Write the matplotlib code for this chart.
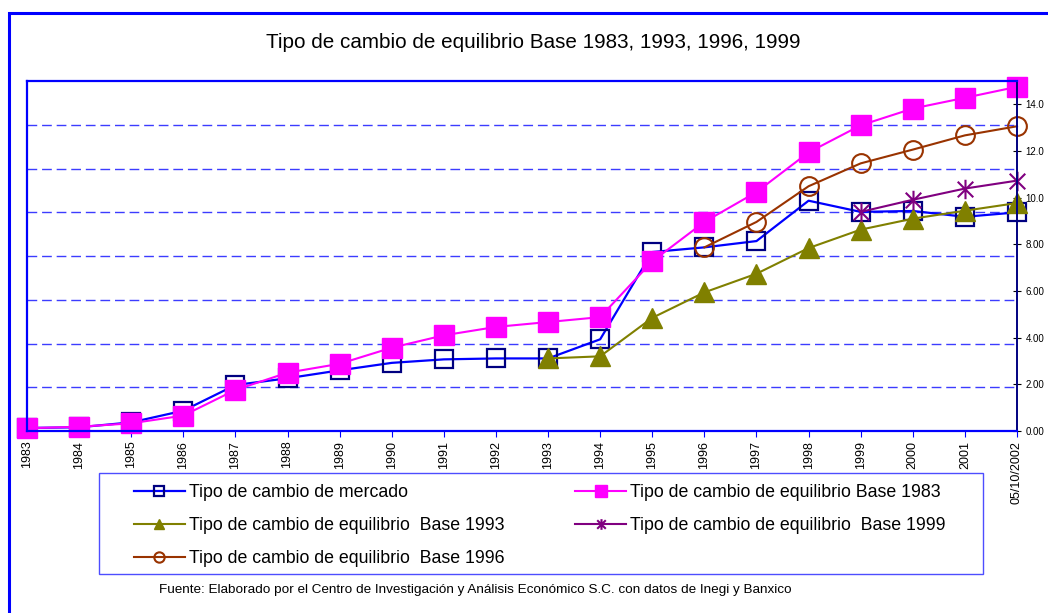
import numpy as np
import matplotlib.pyplot as plt
from matplotlib.path import Path
from matplotlib.patches import Rectangle

plt.rcParams['font.family'] = ['Liberation Sans', 'DejaVu Sans']

years = ["1983", "1984", "1985", "1986", "1987", "1988", "1989", "1990", "1991",
         "1992", "1993", "1994", "1995", "1996", "1997", "1998", "1999", "2000",
         "2001", "05/10/2002"]
nan = np.nan
mercado = [0.13, 0.16, 0.37, 0.87, 1.97, 2.26, 2.6, 2.92, 3.07, 3.11,
           3.11, 3.93, 7.67, 7.87, 8.14, 9.87, 9.39, 9.43, 9.18, 9.37]
base_1983 = [0.12, 0.18, 0.33, 0.66, 1.76, 2.5, 2.88, 3.57, 4.1, 4.46,
             4.67, 4.88, 7.27, 8.96, 10.24, 11.94, 13.1, 13.82, 14.28, 14.75]
base_1993 = [nan] * 10 + [3.11, 3.2, 4.85, 5.94, 6.74, 7.84, 8.63, 9.1, 9.44, 9.77]
base_1996 = [nan] * 13 + [7.87, 8.96, 10.49, 11.47, 12.06, 12.67, 13.06]
base_1999 = [nan] * 16 + [9.39, 9.91, 10.39, 10.73]

right_ticks = [0, 2, 4, 6, 8, 10, 12, 14]
right_labels = ["0.00", "2.00", "4.00", "6.00", "8.00", "10.0", "12.0", "14.0"]
grid_levels = [2, 4, 6, 8, 10, 12, 14]  # hidden primary scale 0-16

title = "Tipo de cambio de equilibrio Base 1983, 1993, 1996, 1999"
source = ("Fuente: Elaborado por el Centro de Investigación y Análisis "
          "Económico S.C. con datos de Inegi y Banxico")

W, H = 1048, 613
fig = plt.figure(figsize=(W / 100, H / 100), dpi=100)


def px(x0, y0, x1, y1):
    return [x0 / W, 1 - y1 / H, (x1 - x0) / W, (y1 - y0) / H]


rect = px(27, 81, 1017, 431)

# dashed gridlines belong to a hidden 0-16 axis
grid_ax = fig.add_axes(rect)
grid_ax.set_xlim(0, 1)
grid_ax.set_ylim(0, 16)
grid_ax.set_yticks(grid_levels)
grid_ax.set_xticks([])
grid_ax.tick_params(left=False, labelleft=False)
grid_ax.grid(axis='y', color='#3c3cff', lw=1, ls=(0, (7, 3.5)))
for s in grid_ax.spines.values():
    s.set_visible(False)

ax = fig.add_axes(rect)
ax.patch.set_visible(False)
x = np.arange(len(years))

star = Path([(-1, -1), (1, 1), (-1, 1), (1, -1), (0, -1.25), (0, 1.25)],
            [Path.MOVETO, Path.LINETO, Path.MOVETO, Path.LINETO, Path.MOVETO, Path.LINETO])

h_merc, = ax.plot(x, mercado, color='#0000ff', lw=1.6, marker='s', ms=13,
                  mfc='none', mec='#000080', mew=1.6, clip_on=False)
h_83, = ax.plot(x, base_1983, color='#ff00ff', lw=1.5, marker='s', ms=14.5,
                mfc='#ff00ff', mec='#ff00ff', clip_on=False)
h_93, = ax.plot(x, base_1993, color='#808000', lw=1.5, marker='^', ms=14,
                mfc='#808000', mec='#808000', clip_on=False)
h_99, = ax.plot(x, base_1999, color='#800080', lw=1.5, marker=star, ms=14,
                mfc='none', mec='#800080', mew=1.5, clip_on=False)
h_96, = ax.plot(x, base_1996, color='#993300', lw=1.5, marker='o', ms=13.5,
                mfc='none', mec='#993300', mew=1.5, clip_on=False)

ax.set_xlim(0, len(years) - 1)
ax.set_ylim(0, 15)
ax.yaxis.tick_right()
ax.set_yticks(right_ticks, right_labels)
ax.tick_params(axis='y', direction='inout', length=6, color='black',
               labelsize=7, pad=3)
ax.set_xticks(x, years, rotation=90, fontsize=9)
ax.tick_params(axis='x', direction='out', length=4, color='#0000ff', pad=3)
for side in ['left', 'top', 'bottom']:
    ax.spines[side].set_color('#0000ff')
    ax.spines[side].set_linewidth(1.6)
ax.spines['right'].set_color('#000080')
ax.spines['right'].set_linewidth(1.4)

fig.text(533 / W, 1 - 43 / H, title, ha='center', va='center', fontsize=14.9)
fig.text(475 / W, 1 - 590 / H, source, ha='center', va='center', fontsize=9.7)

fig.legend([h_merc, h_93, h_96, h_83, h_99],
           ["Tipo de cambio de mercado",
            "Tipo de cambio de equilibrio  Base 1993",
            "Tipo de cambio de equilibrio  Base 1996",
            "Tipo de cambio de equilibrio Base 1983",
            "Tipo de cambio de equilibrio  Base 1999"],
           loc='upper left', bbox_to_anchor=px(134, 484, 946, 570),
           mode='expand', ncol=2, frameon=False, borderpad=0, borderaxespad=0,
           fontsize=12.8, handlelength=2.85, handletextpad=0.25,
           labelspacing=0.9, markerscale=0.55)

fig.add_artist(Rectangle((99 / W, 1 - 574 / H), 884 / W, 101 / H,
                         transform=fig.transFigure, fill=False,
                         ec='#4d4dff', lw=1))
fig.add_artist(Rectangle((9.3 / W, -0.5), 1.5, 0.5 + 1 - 12.7 / H,
                         transform=fig.transFigure, fill=False,
                         ec='#0000ff', lw=2.2))

fig.savefig("out.png", dpi=100)
